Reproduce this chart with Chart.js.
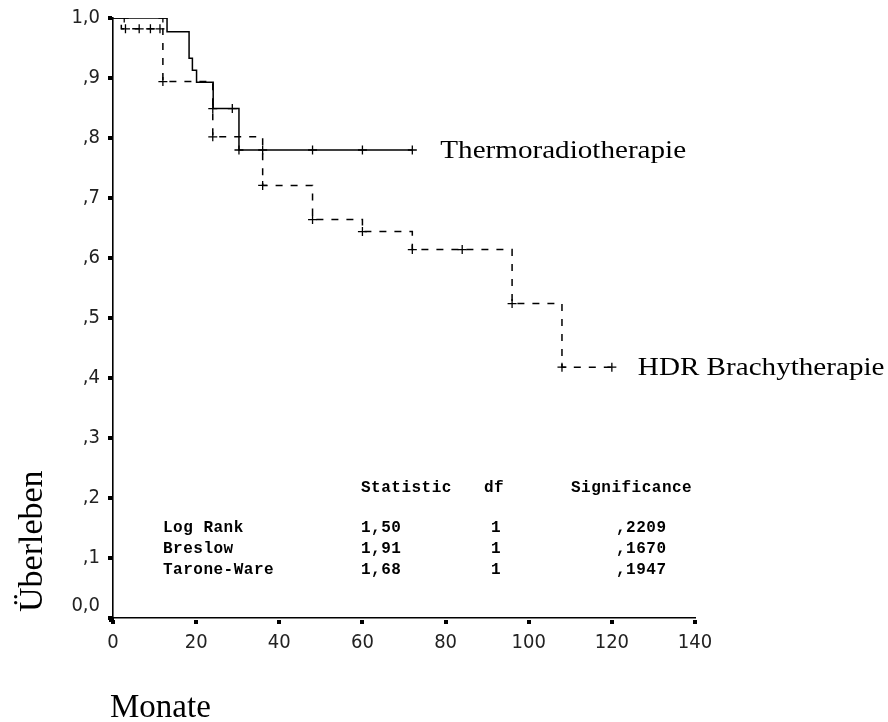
<!DOCTYPE html>
<html>
<head>
<meta charset="utf-8">
<script src="https://cdn.jsdelivr.net/npm/chart.js@4.4.1/dist/chart.umd.min.js"></script>
<style>
  html, body { margin: 0; padding: 0; background: #ffffff; }
  #wrap { width: 888px; height: 722px; }
</style>
</head>
<body>
<div id="wrap"><canvas id="c" width="888" height="722"></canvas></div>
<script>
// ---------- data ----------
const xTickValues = [0, 20, 40, 60, 80, 100, 120, 140];
const yTickLabels = ['0,0', ',1', ',2', ',3', ',4', ',5', ',6', ',7', ',8', ',9', '1,0'];

const thermoName = 'Thermoradiotherapie';
const thermoTimes = [0, 13, 18.3, 19.1, 20.1, 24.1, 30.3, 72];
const thermoSurv  = [1.0, 0.977, 0.933, 0.913, 0.893, 0.849, 0.780, 0.780];
const thermoCensorTimes = [2.7, 12, 24, 28.7, 30.3, 36, 48, 60, 72];
const thermoCensorSurv  = [1.0, 1.0, 0.849, 0.849, 0.780, 0.780, 0.780, 0.780, 0.780];

const hdrName = 'HDR Brachytherapie';
const hdrTimes = [0, 2, 12, 24, 36, 48, 60, 72, 96, 108, 120];
const hdrSurv  = [1.0, 0.982, 0.894, 0.802, 0.721, 0.664, 0.644, 0.614, 0.524, 0.418, 0.418];
const hdrCensorTimes = [3, 6.3, 9, 11.3, 12, 24, 36, 48, 60, 72, 84, 96, 108, 120];
const hdrCensorSurv  = [0.982, 0.982, 0.982, 0.982, 0.894, 0.802, 0.721, 0.664, 0.644, 0.614, 0.614, 0.524, 0.418, 0.418];

const xAxisTitle = 'Monate';
const yAxisTitle = 'Überleben';

const tableHeader = ['Statistic', 'df', 'Significance'];
const testNames  = ['Log Rank', 'Breslow', 'Tarone-Ware'];
const testStats  = ['1,50', '1,91', '1,68'];
const testDf     = ['1', '1', '1'];
const testSig    = [',2209', ',1670', ',1947'];

// ---------- helpers ----------
const pts = (xs, ys) => xs.map((x, i) => ({ x: x, y: ys[i] }));

const tickFont = { family: '"Liberation Sans Narrow", "DejaVu Sans Condensed", "Liberation Sans", sans-serif', size: 20, weight: 'normal', lineHeight: 1.2 };

const decorPlugin = {
  id: 'decor',
  afterDraw(chart) {
    const ctx = chart.ctx;
    const xs = chart.scales.x, ys = chart.scales.y;
    ctx.save();
    ctx.fillStyle = '#000';
    // tick squares
    xTickValues.forEach(v => {
      const px = xs.getPixelForValue(v);
      ctx.fillRect(Math.round(px) - 2, ys.getPixelForValue(0) + 2, 4, 4);
    });
    yTickLabels.forEach((l, i) => {
      const py = ys.getPixelForValue(i / 10);
      ctx.fillRect(xs.getPixelForValue(0) - 5, Math.round(py) - 2, 4, 4);
    });
    ctx.fillRect(xs.getPixelForValue(0) - 4, ys.getPixelForValue(0) - 1, 5, 5);

    // series labels
    ctx.fillStyle = '#000';
    ctx.textBaseline = 'alphabetic';
    ctx.textAlign = 'left';
    ctx.font = '26px "Liberation Serif", "Times New Roman", serif';
    const drawStretched = (text, x, yBase) => {
      ctx.save();
      ctx.translate(x, yBase);
      ctx.scale(1.12, 1);
      ctx.fillText(text, 0, 0);
      ctx.restore();
    };
    drawStretched(thermoName,
      xs.getPixelForValue(thermoTimes[thermoTimes.length - 1]) + 28,
      ys.getPixelForValue(thermoSurv[thermoSurv.length - 1]) + 8);
    drawStretched(hdrName,
      xs.getPixelForValue(hdrTimes[hdrTimes.length - 1]) + 26,
      ys.getPixelForValue(hdrSurv[hdrSurv.length - 1]) + 8);

    // axis titles
    ctx.font = '33px "Liberation Serif", "Times New Roman", serif';
    ctx.fillText(xAxisTitle, 110, 717);
    ctx.save();
    ctx.translate(42, 612);
    ctx.rotate(-Math.PI / 2);
    ctx.font = '34px "Liberation Serif", "Times New Roman", serif';
    ctx.fillText(yAxisTitle, 0, 0);
    ctx.restore();

    // statistics table
    ctx.font = 'bold 16px "Liberation Mono", "DejaVu Sans Mono", monospace';
    try { ctx.letterSpacing = '0.5px'; } catch (e) {}
    ctx.textBaseline = 'middle';
    const colName = 163, colStat = 361, colDf = 484, colDfVal = 491, colSigHead = 571, colSig = 616;
    const headY = 488, rowY0 = 528, rowStep = 21.2;
    ctx.fillText(tableHeader[0], colStat, headY);
    ctx.fillText(tableHeader[1], colDf, headY);
    ctx.fillText(tableHeader[2], colSigHead, headY);
    testNames.forEach((n, i) => {
      const y = rowY0 + i * rowStep;
      ctx.fillText(n, colName, y);
      ctx.fillText(testStats[i], colStat, y);
      ctx.fillText(testDf[i], colDfVal, y);
      ctx.fillText(testSig[i], colSig, y);
    });
    ctx.restore();
  }
};

new Chart(document.getElementById('c'), {
  type: 'scatter',
  data: {
    datasets: [
      {
        label: thermoName,
        data: pts(thermoTimes, thermoSurv),
        showLine: true,
        stepped: 'before',
        borderColor: '#000',
        borderWidth: 1.5,
        pointRadius: 0,
        fill: false
      },
      {
        label: hdrName,
        data: pts(hdrTimes, hdrSurv),
        showLine: true,
        stepped: 'before',
        borderColor: '#000',
        borderWidth: 1.5,
        borderDash: [7, 8],
        pointRadius: 0,
        fill: false
      },
      {
        label: thermoName + ' zensiert',
        data: pts(thermoCensorTimes, thermoCensorSurv),
        showLine: false,
        pointStyle: 'cross',
        pointRadius: 4.5,
        pointBorderWidth: 1.3,
        pointBorderColor: '#000',
        borderColor: '#000'
      },
      {
        label: hdrName + ' zensiert',
        data: pts(hdrCensorTimes, hdrCensorSurv),
        showLine: false,
        pointStyle: 'cross',
        pointRadius: 4.5,
        pointBorderWidth: 1.3,
        pointBorderColor: '#000',
        borderColor: '#000'
      }
    ]
  },
  options: {
    responsive: false,
    animation: false,
    devicePixelRatio: 1,
    layout: { padding: { top: 18, right: 193, left: 0, bottom: 0 } },
    plugins: { legend: { display: false }, tooltip: { enabled: false }, title: { display: false } },
    scales: {
      x: {
        type: 'linear',
        min: 0, max: 140,
        grid: { display: false, drawTicks: false },
        border: { display: true, color: '#000', width: 1.6 },
        ticks: {
          stepSize: 20,
          padding: 13,
          color: '#222',
          font: tickFont,
          maxRotation: 0,
          autoSkip: false
        },
        afterFit(scale) { scale.height = 104; scale.paddingLeft = 0; scale.paddingRight = 0; }
      },
      y: {
        type: 'linear',
        min: 0, max: 1,
        grid: { display: false, drawTicks: false },
        border: { display: true, color: '#000', width: 1.6 },
        ticks: {
          stepSize: 0.1,
          padding: 13,
          color: '#222',
          font: tickFont,
          autoSkip: false,
          callback: (v, i) => (i === 0 ? [yTickLabels[0], ''] : yTickLabels[i])
        },
        afterFit(scale) { scale.width = 113; scale.paddingTop = 0; scale.paddingBottom = 0; }
      }
    }
  },
  plugins: [decorPlugin]
});
</script>
</body>
</html>
